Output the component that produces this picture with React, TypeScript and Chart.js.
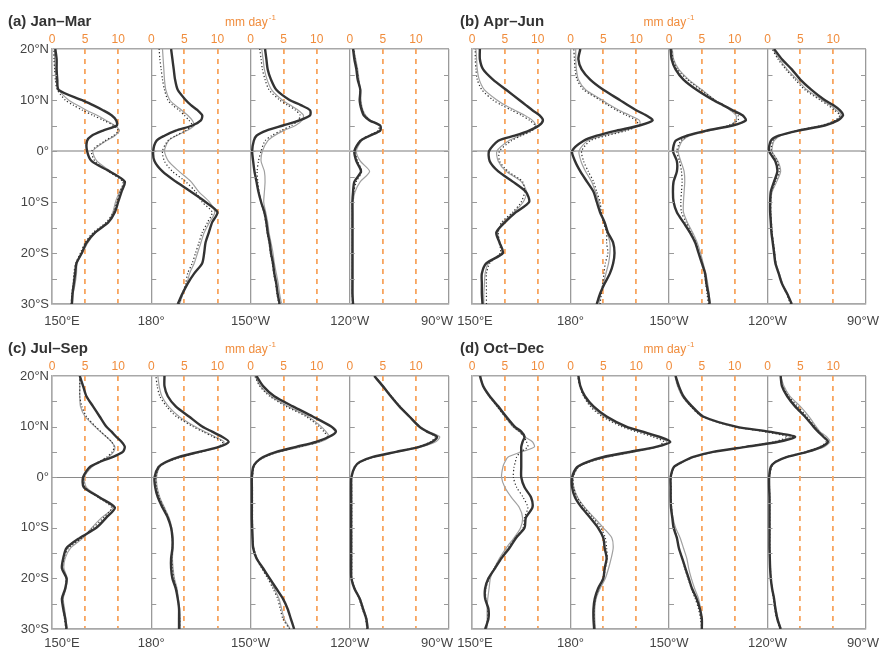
import React, { useEffect, useRef } from 'react';
import { Chart, registerables } from 'chart.js';

Chart.register(...registerables);

const FONT = '"Liberation Sans", Arial, Helvetica, sans-serif';
Chart.defaults.font.family = FONT;

// ---------------- axes / labels ----------------
const LATS = [-30, -28, -26, -24, -22, -20, -18, -16, -14, -12, -10, -8, -6, -4, -2, 0, 2, 3, 4, 5, 6, 7, 8, 9, 10, 12, 14, 16, 18, 20];
const LON_TICKS = [150, 180, 210, 240, 270];
const LON_LABELS = ['150°E', '180°', '150°W', '120°W', '90°W'];
const LAT_TICKS = [-30, -20, -10, 0, 10, 20];
const LAT_LABELS = ['30°S', '20°S', '10°S', '0°', '10°N', '20°N'];
const LAT_MINOR = [-25, -20, -15, -10, -5, 0, 5, 10, 15];
const RAIN_TICKS = [0, 5, 10];
const SEASONS = ['(a) Jan–Mar', '(b) Apr–Jun', '(c) Jul–Sep', '(d) Oct–Dec'];
const UNIT = 'mm day';
const UNIT_SUP = '-1';

// ---------------- data (mm/day, ordered as LATS) ----------------
// Jan–Mar
const jfm150E_solid = [3.0, 3.1, 3.3, 3.5, 3.7, 4.5, 5.2, 6.5, 8.5, 9.5, 10.0, 10.5, 11.0, 8.7, 6.0, 5.3, 5.3, 6.0, 7.7, 9.8, 9.7, 9.0, 7.7, 6.2, 4.5, 1.0, 0.8, 0.7, 0.7, 0.5];
const jfm150E_dotted = [2.9, 3.0, 3.2, 3.3, 3.6, 4.3, 5.0, 6.2, 8.2, 9.3, 9.8, 10.3, 10.7, 8.5, 6.5, 6.0, 8.0, 9.3, 10.0, 9.3, 7.8, 6.2, 4.6, 3.2, 2.0, 0.8, 0.5, 0.4, 0.3, 0.3];
const jfm150E_gray = [3.1, 3.2, 3.5, 3.7, 3.8, 4.6, 5.4, 6.6, 8.4, 9.2, 9.6, 10.2, 10.9, 8.9, 6.8, 6.2, 8.2, 9.5, 10.2, 9.5, 8.2, 6.8, 5.2, 3.8, 2.5, 1.0, 0.6, 0.5, 0.4, 0.4];
const jfm180_solid = [4.0, 4.7, 5.5, 6.5, 7.7, 8.0, 8.2, 8.7, 9.2, 10.0, 8.2, 6.0, 3.7, 1.7, 0.5, 0.3, 0.8, 2.0, 3.7, 6.2, 7.5, 7.7, 7.0, 6.0, 5.2, 4.0, 3.6, 3.4, 3.2, 3.0];
const jfm180_dotted = [4.2, 4.7, 5.2, 5.5, 6.2, 6.7, 7.2, 7.7, 8.5, 9.2, 7.7, 6.7, 5.2, 3.2, 2.0, 1.7, 2.5, 3.7, 5.2, 6.2, 5.7, 5.0, 4.2, 3.2, 2.5, 2.0, 1.7, 1.5, 1.3, 1.2];
const jfm180_gray = [4.3, 4.8, 5.4, 5.8, 6.5, 7.0, 7.5, 8.0, 8.8, 9.6, 8.8, 7.2, 6.0, 4.2, 2.6, 2.0, 2.6, 3.8, 5.4, 6.5, 6.2, 5.5, 4.6, 3.6, 2.8, 2.2, 2.0, 1.9, 1.8, 1.7];
const jfm150W_solid = [4.4, 4.1, 3.9, 3.6, 3.4, 3.1, 2.9, 2.6, 2.4, 2.1, 1.6, 1.2, 0.9, 0.6, 0.4, 0.25, 0.5, 0.9, 2.4, 4.9, 7.4, 9.0, 9.0, 7.6, 5.9, 3.9, 3.1, 2.6, 2.4, 2.2];
const jfm150W_dotted = [4.3, 4.0, 3.8, 3.5, 3.3, 3.0, 2.8, 2.5, 2.3, 2.0, 1.6, 1.3, 1.1, 1.0, 1.2, 1.6, 2.2, 3.2, 4.6, 6.2, 7.2, 7.5, 6.8, 5.6, 4.4, 2.8, 2.2, 1.8, 1.6, 1.4];
const jfm150W_gray = [4.7, 4.4, 4.2, 3.9, 3.6, 3.4, 3.1, 2.8, 2.6, 2.3, 2.0, 2.1, 2.2, 2.1, 1.6, 1.8, 2.6, 3.6, 5.0, 6.8, 7.8, 8.0, 7.2, 6.0, 4.8, 3.2, 2.5, 2.1, 1.9, 1.7];
const jfm120W_solid = [0.5, 0.4, 0.4, 0.4, 0.4, 0.4, 0.4, 0.4, 0.4, 0.4, 0.4, 0.5, 0.7, 1.7, 1.0, 0.7, 1.6, 3.0, 4.6, 4.6, 3.0, 2.1, 1.8, 1.6, 1.5, 1.6, 1.2, 1.0, 0.7, 0.5];
const jfm120W_dotted = [0.4, 0.4, 0.4, 0.4, 0.4, 0.4, 0.4, 0.4, 0.4, 0.4, 0.4, 0.6, 1.0, 1.8, 1.2, 0.8, 1.5, 2.8, 4.3, 4.4, 3.0, 2.3, 1.9, 1.7, 1.6, 1.5, 1.3, 1.1, 0.8, 0.6];
const jfm120W_gray = [0.5, 0.5, 0.5, 0.5, 0.5, 0.5, 0.5, 0.5, 0.5, 0.5, 0.5, 0.8, 1.6, 3.0, 1.6, 1.0, 1.8, 3.2, 4.7, 4.6, 3.2, 2.4, 2.0, 1.8, 1.7, 1.6, 1.4, 1.2, 0.9, 0.6];

// Apr–Jun
const amj150E_solid = [1.6, 1.5, 1.5, 1.5, 2.2, 4.7, 4.2, 3.7, 5.0, 6.7, 8.7, 8.2, 6.2, 4.0, 2.7, 2.6, 4.0, 6.5, 8.7, 10.2, 10.8, 10.3, 9.2, 8.2, 7.2, 5.2, 3.2, 1.7, 1.2, 1.2];
const amj150E_dotted = [2.2, 2.2, 2.2, 2.2, 2.7, 4.3, 4.2, 4.0, 4.5, 6.2, 7.5, 8.0, 7.7, 5.5, 4.2, 4.2, 6.0, 7.5, 9.2, 9.6, 8.8, 7.5, 6.0, 4.5, 3.2, 1.5, 0.8, 0.6, 0.5, 0.5];
const amj150E_gray = [1.8, 1.8, 1.9, 2.0, 2.5, 4.5, 4.3, 3.9, 4.7, 6.4, 7.8, 8.3, 7.5, 5.2, 4.0, 3.8, 5.6, 7.3, 9.0, 9.7, 9.2, 8.0, 6.5, 5.0, 3.8, 1.9, 1.1, 0.8, 0.7, 0.6];
const amj180_solid = [4.0, 4.5, 5.2, 6.0, 6.5, 6.7, 6.5, 5.7, 5.2, 4.5, 4.0, 3.5, 2.5, 1.5, 0.7, 0.25, 2.0, 4.0, 7.0, 10.5, 12.5, 11.5, 10.0, 8.7, 7.5, 5.0, 3.0, 1.7, 1.2, 1.5];
const amj180_dotted = [4.5, 4.7, 4.9, 5.1, 5.3, 5.7, 5.5, 5.5, 5.0, 4.7, 4.5, 4.0, 3.5, 2.7, 2.0, 1.7, 3.0, 5.5, 8.5, 10.3, 10.0, 8.5, 7.0, 5.7, 4.5, 2.0, 1.0, 0.7, 0.6, 0.5];
const amj180_gray = [4.3, 4.6, 5.0, 5.4, 5.8, 6.0, 6.0, 5.6, 5.1, 4.6, 4.3, 3.8, 3.2, 2.3, 1.6, 1.3, 2.6, 5.0, 8.2, 10.5, 10.5, 9.0, 7.4, 6.0, 4.8, 2.3, 1.2, 0.9, 0.8, 0.8];
const amj150W_solid = [6.2, 6.0, 5.7, 5.5, 5.0, 4.5, 4.0, 3.2, 2.2, 1.2, 0.7, 0.6, 0.7, 1.2, 1.2, 0.6, 1.0, 2.7, 5.7, 9.7, 11.7, 11.2, 9.7, 8.2, 6.7, 4.2, 2.2, 1.0, 0.4, 0.25];
const amj150W_dotted = [6.0, 5.8, 5.6, 5.4, 5.0, 4.6, 4.1, 3.4, 2.6, 1.9, 1.8, 1.9, 2.0, 1.9, 1.6, 1.2, 1.8, 3.0, 6.0, 9.0, 10.5, 10.5, 9.5, 8.3, 7.0, 4.8, 2.8, 1.3, 0.6, 0.4];
const amj150W_gray = [6.3, 6.1, 5.9, 5.6, 5.2, 4.8, 4.3, 3.6, 2.8, 2.2, 2.2, 2.3, 2.4, 2.3, 1.8, 1.4, 2.0, 3.2, 6.2, 9.3, 10.2, 10.2, 9.3, 8.2, 7.0, 5.0, 3.0, 1.5, 0.7, 0.5];
const amj120W_solid = [3.7, 3.0, 2.2, 1.7, 1.2, 1.0, 0.8, 0.6, 0.5, 0.4, 0.4, 0.5, 1.0, 1.5, 1.2, 0.25, 0.5, 1.7, 4.7, 8.7, 10.7, 11.5, 11.0, 10.0, 8.7, 6.7, 5.0, 3.7, 2.2, 1.0];
const amj120W_dotted = [3.5, 2.9, 2.2, 1.7, 1.3, 1.1, 0.9, 0.7, 0.6, 0.5, 0.5, 0.6, 1.2, 1.8, 1.5, 0.6, 0.8, 1.8, 4.4, 8.2, 10.3, 11.0, 10.2, 9.2, 8.0, 5.7, 4.2, 2.8, 1.6, 0.7];
const amj120W_gray = [3.6, 3.0, 2.3, 1.8, 1.3, 1.1, 0.9, 0.7, 0.6, 0.5, 0.5, 0.7, 1.4, 2.0, 1.6, 0.7, 1.0, 2.0, 4.6, 8.4, 10.5, 11.2, 10.5, 9.5, 8.3, 6.0, 4.5, 3.0, 1.8, 0.8];

// Jul–Sep
const jas150E_solid = [2.2, 2.0, 1.7, 1.5, 2.0, 2.2, 1.5, 1.7, 2.2, 4.2, 6.7, 8.2, 9.5, 7.2, 4.8, 4.7, 5.7, 7.2, 9.2, 10.7, 11.0, 10.5, 9.7, 9.0, 8.2, 7.2, 6.2, 5.2, 4.7, 4.2];
const jas150E_dotted = [2.1, 1.9, 1.7, 1.6, 2.0, 2.1, 1.6, 1.8, 2.5, 4.5, 6.2, 7.8, 9.0, 7.0, 5.0, 4.8, 5.8, 7.0, 8.3, 9.1, 9.4, 9.0, 8.2, 7.4, 6.6, 5.2, 4.5, 4.2, 4.2, 4.2];
const jas150E_gray = [2.3, 2.1, 1.9, 1.7, 2.1, 2.3, 1.8, 2.0, 2.8, 4.7, 6.0, 7.5, 9.2, 7.3, 5.2, 4.9, 6.0, 7.2, 8.5, 9.3, 9.5, 9.0, 8.2, 7.3, 6.5, 5.0, 4.3, 4.2, 4.2, 4.2];
const jas180_solid = [4.2, 4.2, 4.2, 4.0, 3.7, 3.2, 3.0, 3.0, 3.2, 3.2, 3.0, 2.5, 1.7, 1.0, 0.6, 0.5, 1.1, 2.2, 4.2, 7.2, 10.2, 11.7, 10.7, 9.2, 7.7, 5.7, 3.7, 2.5, 2.0, 2.0];
const jas180_dotted = [4.3, 4.3, 4.2, 4.0, 3.8, 3.4, 3.2, 3.1, 3.2, 3.2, 3.0, 2.6, 1.9, 1.2, 0.8, 0.7, 1.2, 2.4, 4.5, 7.5, 10.2, 10.8, 9.3, 7.8, 6.3, 3.8, 2.3, 1.3, 0.9, 0.7];
const jas180_gray = [4.4, 4.4, 4.3, 4.1, 3.9, 3.5, 3.3, 3.2, 3.3, 3.3, 3.1, 2.7, 2.0, 1.3, 0.9, 0.8, 1.3, 2.5, 4.6, 7.6, 10.4, 11.0, 9.6, 8.1, 6.6, 4.2, 2.6, 1.6, 1.2, 1.0];
const jas150W_solid = [6.6, 6.1, 5.6, 4.9, 3.9, 2.9, 1.9, 0.9, 0.4, 0.3, 0.25, 0.2, 0.2, 0.2, 0.2, 0.2, 0.4, 0.9, 1.9, 3.9, 6.9, 9.9, 11.9, 12.9, 12.2, 9.4, 6.4, 3.6, 1.9, 0.9];
const jas150W_dotted = [5.9, 4.9, 4.5, 4.1, 3.4, 2.6, 1.7, 0.9, 0.5, 0.3, 0.3, 0.3, 0.3, 0.3, 0.3, 0.3, 0.5, 1.0, 2.2, 4.2, 7.4, 10.4, 11.6, 11.1, 10.4, 8.4, 5.4, 2.9, 1.4, 0.65];
const jas150W_gray = [6.0, 5.1, 4.7, 4.3, 3.6, 2.8, 1.8, 1.0, 0.5, 0.4, 0.3, 0.3, 0.3, 0.3, 0.3, 0.3, 0.5, 1.0, 2.2, 4.3, 7.6, 10.6, 11.9, 11.4, 10.7, 8.7, 5.7, 3.1, 1.5, 0.7];
const jas120W_solid = [2.7, 2.5, 2.0, 1.5, 0.7, 0.25, 0.2, 0.2, 0.2, 0.2, 0.2, 0.2, 0.2, 0.2, 0.2, 0.25, 0.75, 1.5, 3.5, 7.0, 10.5, 12.5, 13.2, 11.7, 10.5, 9.0, 7.5, 6.2, 5.0, 3.7];
const jas120W_dotted = [2.6, 2.4, 1.9, 1.4, 0.8, 0.3, 0.3, 0.3, 0.3, 0.3, 0.3, 0.3, 0.3, 0.3, 0.3, 0.3, 0.8, 1.6, 3.6, 7.0, 10.3, 12.2, 12.9, 11.6, 10.5, 9.0, 7.6, 6.3, 5.0, 3.8];
const jas120W_gray = [2.8, 2.6, 2.1, 1.6, 0.8, 0.3, 0.3, 0.3, 0.3, 0.3, 0.3, 0.3, 0.3, 0.3, 0.3, 0.3, 0.8, 1.6, 3.7, 7.3, 10.8, 13.0, 13.6, 12.0, 10.7, 9.1, 7.6, 6.3, 5.1, 3.8];

// Oct–Dec
const ond150E_solid = [2.0, 2.5, 2.5, 2.0, 2.0, 2.5, 3.5, 4.5, 5.7, 6.7, 8.0, 8.2, 9.2, 9.0, 8.0, 7.5, 7.5, 7.5, 7.5, 7.5, 7.5, 7.7, 8.0, 7.5, 6.5, 5.2, 4.0, 2.7, 1.7, 1.2];
const ond150E_dotted = [2.1, 2.4, 2.4, 2.1, 2.1, 2.6, 3.4, 4.4, 5.5, 6.6, 7.8, 8.0, 8.5, 7.8, 6.8, 6.3, 6.4, 6.6, 6.8, 7.4, 8.5, 8.3, 7.9, 7.2, 6.3, 5.0, 3.8, 2.6, 1.7, 1.3];
const ond150E_gray = [2.3, 2.3, 2.3, 2.4, 2.6, 2.8, 3.4, 4.2, 5.2, 6.4, 7.4, 7.7, 7.2, 6.0, 5.0, 4.5, 4.7, 5.0, 5.5, 7.5, 9.5, 9.2, 8.0, 7.2, 6.2, 5.0, 3.8, 2.6, 1.7, 1.3];
const ond180_solid = [3.6, 3.5, 3.5, 3.7, 4.2, 5.0, 5.2, 5.5, 5.2, 5.0, 4.2, 3.0, 1.7, 0.7, 0.25, 0.25, 1.0, 2.5, 5.0, 9.0, 13.0, 15.2, 13.5, 11.0, 8.5, 5.5, 3.5, 2.2, 1.5, 1.2];
const ond180_dotted = [3.7, 3.6, 3.6, 3.8, 4.3, 5.0, 5.3, 5.6, 5.5, 5.3, 4.6, 3.4, 2.1, 1.0, 0.5, 0.4, 1.2, 2.8, 5.5, 9.5, 13.0, 14.2, 12.5, 10.0, 7.8, 4.8, 3.0, 2.0, 1.4, 1.1];
const ond180_gray = [3.8, 3.7, 3.7, 3.9, 4.5, 5.3, 5.8, 6.2, 6.5, 6.3, 5.0, 3.6, 2.2, 1.1, 0.5, 0.4, 1.2, 2.9, 5.8, 9.8, 13.3, 14.7, 13.0, 10.5, 8.2, 5.1, 3.2, 2.1, 1.5, 1.2];
const ond150W_solid = [5.0, 5.0, 4.7, 4.2, 3.5, 3.0, 2.5, 2.0, 1.5, 1.2, 0.7, 0.5, 0.3, 0.25, 0.25, 0.25, 0.75, 2.0, 3.7, 6.7, 11.7, 16.7, 19.2, 15.2, 10.2, 5.2, 3.5, 2.2, 1.5, 1.0];
const ond150W_dotted = [5.0, 4.8, 4.5, 4.0, 3.4, 2.9, 2.4, 2.0, 1.5, 1.2, 0.8, 0.5, 0.4, 0.3, 0.3, 0.3, 0.8, 2.0, 3.8, 6.8, 11.5, 16.0, 18.0, 14.5, 9.8, 5.0, 3.3, 2.1, 1.4, 1.0];
const ond150W_gray = [5.1, 5.0, 4.8, 4.5, 3.9, 3.4, 3.0, 2.7, 2.2, 1.7, 1.0, 0.6, 0.4, 0.3, 0.3, 0.3, 0.8, 2.1, 3.9, 7.0, 11.8, 16.3, 18.5, 14.8, 10.0, 5.0, 3.3, 2.0, 1.3, 0.9];
const ond120W_solid = [2.0, 1.5, 1.2, 1.0, 0.7, 0.5, 0.4, 0.35, 0.3, 0.3, 0.3, 0.3, 0.3, 0.3, 0.25, 0.25, 0.5, 1.2, 3.0, 6.0, 8.2, 9.2, 8.5, 7.7, 7.0, 5.7, 4.2, 3.0, 2.2, 2.0];
const ond120W_dotted = [1.9, 1.4, 1.1, 0.9, 0.7, 0.5, 0.45, 0.4, 0.35, 0.35, 0.35, 0.35, 0.35, 0.35, 0.3, 0.3, 0.6, 1.1, 2.9, 5.7, 8.0, 8.9, 8.5, 7.8, 7.2, 6.0, 4.6, 3.2, 2.3, 1.9];
const ond120W_gray = [2.1, 1.6, 1.3, 1.0, 0.7, 0.5, 0.45, 0.4, 0.35, 0.35, 0.35, 0.35, 0.35, 0.35, 0.3, 0.3, 0.6, 1.1, 3.1, 6.2, 8.6, 9.5, 9.0, 8.0, 7.4, 6.3, 5.0, 3.4, 2.5, 2.0];

const SEASON_DATA = [
  [[jfm150E_solid, jfm150E_dotted, jfm150E_gray], [jfm180_solid, jfm180_dotted, jfm180_gray], [jfm150W_solid, jfm150W_dotted, jfm150W_gray], [jfm120W_solid, jfm120W_dotted, jfm120W_gray]],
  [[amj150E_solid, amj150E_dotted, amj150E_gray], [amj180_solid, amj180_dotted, amj180_gray], [amj150W_solid, amj150W_dotted, amj150W_gray], [amj120W_solid, amj120W_dotted, amj120W_gray]],
  [[jas150E_solid, jas150E_dotted, jas150E_gray], [jas180_solid, jas180_dotted, jas180_gray], [jas150W_solid, jas150W_dotted, jas150W_gray], [jas120W_solid, jas120W_dotted, jas120W_gray]],
  [[ond150E_solid, ond150E_dotted, ond150E_gray], [ond180_solid, ond180_dotted, ond180_gray], [ond150W_solid, ond150W_dotted, ond150W_gray], [ond120W_solid, ond120W_dotted, ond120W_gray]],
];

// ---------------- styles / layout ----------------
const ORANGE_TEXT = 'rgb(240,140,60)';
const ORANGE_LINE = 'rgb(248,165,95)';
const FRAME = '#a8a8a8';
const SERIES_STYLES = [
  { name: 'solid', color: '#333333', width: 2.4, dash: [] as number[], order: 0 },
  { name: 'dotted', color: '#2a2a2a', width: 1.2, dash: [1.2, 2.2], order: 1 },
  { name: 'gray', color: '#a0a0a0', width: 1.2, dash: [] as number[], order: 2 },
];
const TOP_H = 25;
const BOTTOM_H = 22;

const LAYOUT = [
  { box: { left: 0, top: 0, width: 462, height: 330 }, plot: { l: 52, t: 49, r: 449, b: 304 }, showLat: true, zeroColor: '#bdbdbd', zeroWidth: 2, labelDy: 17, firstOff: 10, lastOff: -12, titleX: 8 },
  { box: { left: 440, top: 0, width: 439, height: 330 }, plot: { l: 472, t: 49, r: 866, b: 304 }, showLat: false, zeroColor: '#bdbdbd', zeroWidth: 2, labelDy: 17, firstOff: 3, lastOff: -3, titleX: 460 },
  { box: { left: 0, top: 326, width: 462, height: 326 }, plot: { l: 52, t: 376, r: 449, b: 629 }, showLat: true, zeroColor: '#8a8a8a', zeroWidth: 1, labelDy: 14, firstOff: 10, lastOff: -12, titleX: 8 },
  { box: { left: 440, top: 326, width: 439, height: 326 }, plot: { l: 472, t: 376, r: 866, b: 629 }, showLat: false, zeroColor: '#8a8a8a', zeroWidth: 1, labelDy: 14, firstOff: 3, lastOff: -3, titleX: 460 },
];

const RAIN_TOP_TICKS = [0, 1, 2, 3].flatMap((k) => RAIN_TICKS.map((t) => 15 * k + t));

function buildConfig(idx: number): any {
  const L = LAYOUT[idx];
  const relL = L.plot.l - L.box.left;
  const relR = L.plot.r - L.box.left;
  const relT = L.plot.t - L.box.top;
  const relB = L.plot.b - L.box.top;
  const padding = {
    left: 0,
    right: L.box.width - relR,
    top: relT - TOP_H,
    bottom: L.box.height - relB - BOTTOM_H,
  };

  const datasets: any[] = [];
  SEASON_DATA[idx].forEach((group, k) => {
    group.forEach((arr, s) => {
      const st = SERIES_STYLES[s];
      datasets.push({
        label: `${LON_LABELS[k]} ${st.name}`,
        data: LATS.map((lat, i) => ({ x: arr[i], y: lat })),
        xAxisID: 'xs' + k,
        yAxisID: 'y',
        showLine: true,
        pointRadius: 0,
        borderColor: st.color,
        borderWidth: st.width,
        borderDash: st.dash,
        order: st.order,
        tension: 0.25,
        fill: false,
      });
    });
  });

  const scales: any = {
    x: {
      type: 'linear', axis: 'x', position: 'bottom', min: 150, max: 270,
      afterBuildTicks: (s: any) => { s.ticks = LON_TICKS.map((v) => ({ value: v })); },
      afterFit: (s: any) => { s.height = BOTTOM_H; },
      ticks: { display: false },
      grid: { color: '#9a9a9a', lineWidth: 1.3, drawTicks: false },
      border: { color: FRAME, width: 1.5 },
    },
    y: {
      type: 'linear', position: 'left', min: -30, max: 20,
      afterBuildTicks: (s: any) => { s.ticks = LAT_TICKS.map((v) => ({ value: v })); },
      afterFit: (s: any) => { s.width = relL; },
      ticks: {
        display: L.showLat,
        callback: (v: any) => LAT_LABELS[LAT_TICKS.indexOf(Number(v))],
        color: '#444', font: { size: 13 }, padding: 3,
      },
      grid: {
        drawTicks: false,
        color: (c: any) => {
          const v = c.tick ? c.tick.value : null;
          if (v === 0) return L.zeroColor;
          if (v === -30 || v === 20) return FRAME;
          return 'rgba(0,0,0,0)';
        },
        lineWidth: (c: any) => (c.tick && c.tick.value === 0 ? L.zeroWidth : 1.5),
      },
      border: { color: FRAME, width: 1.5 },
    },
    xtop: {
      type: 'linear', axis: 'x', position: 'top', min: 0, max: 60,
      afterBuildTicks: (s: any) => { s.ticks = RAIN_TOP_TICKS.map((v) => ({ value: v })); },
      afterFit: (s: any) => { s.height = TOP_H; },
      ticks: {
        autoSkip: false, maxRotation: 0, padding: 2,
        callback: (v: any) => String(RAIN_TICKS[RAIN_TOP_TICKS.indexOf(Number(v)) % RAIN_TICKS.length]),
        color: ORANGE_TEXT, font: { size: 12 },
      },
      grid: {
        drawTicks: false,
        color: (c: any) => (c.tick && c.tick.value % 15 === 0 ? 'rgba(0,0,0,0)' : ORANGE_LINE),
        lineWidth: 1.8,
      },
      border: { display: false, dash: [5, 5] },
    },
  };
  for (let k = 0; k < 4; k++) {
    scales['xs' + k] = { type: 'linear', axis: 'x', position: 'bottom', display: false, min: -15 * k, max: 60 - 15 * k };
  }

  const annot = {
    id: 'annot' + idx,
    afterDraw(chart: any) {
      const { ctx, chartArea, scales: sc } = chart;
      ctx.save();
      // small latitude tick marks on each sub-panel divider
      ctx.strokeStyle = '#9a9a9a';
      ctx.lineWidth = 1;
      LAT_MINOR.forEach((lat) => {
        const y = Math.round(sc.y.getPixelForValue(lat)) + 0.5;
        LON_TICKS.forEach((lon, i) => {
          const x = sc.x.getPixelForValue(lon);
          const dir = i === LON_TICKS.length - 1 ? -1 : 1;
          ctx.beginPath();
          ctx.moveTo(x, y);
          ctx.lineTo(x + dir * 5, y);
          ctx.stroke();
        });
      });
      // longitude labels
      ctx.font = `13px ${FONT}`;
      ctx.fillStyle = '#444';
      ctx.textAlign = 'center';
      ctx.textBaseline = 'middle';
      LON_TICKS.forEach((lon, i) => {
        const off = i === 0 ? L.firstOff : i === LON_TICKS.length - 1 ? L.lastOff : 0;
        ctx.fillText(LON_LABELS[i], sc.x.getPixelForValue(lon) + off, chartArea.bottom + L.labelDy);
      });
      // panel title
      const ty = chartArea.top - 27;
      ctx.font = `bold 15px ${FONT}`;
      ctx.fillStyle = '#333';
      ctx.textAlign = 'left';
      ctx.fillText(SEASONS[idx], L.titleX - L.box.left, ty);
      // unit label
      ctx.font = `12px ${FONT}`;
      const w1 = ctx.measureText(UNIT).width;
      ctx.font = `8px ${FONT}`;
      const w2 = ctx.measureText(UNIT_SUP).width;
      const cx = (chartArea.left + chartArea.right) / 2;
      const x0 = cx - (w1 + w2 + 1) / 2;
      ctx.fillStyle = ORANGE_TEXT;
      ctx.font = `12px ${FONT}`;
      ctx.fillText(UNIT, x0, ty + 1);
      ctx.font = `8px ${FONT}`;
      ctx.fillText(UNIT_SUP, x0 + w1 + 1, ty - 4);
      ctx.restore();
    },
  };

  return {
    type: 'scatter',
    data: { datasets },
    options: {
      animation: false,
      responsive: false,
      maintainAspectRatio: false,
      layout: { padding },
      plugins: { legend: { display: false }, tooltip: { enabled: false }, title: { display: false } },
      scales,
    },
    plugins: [annot],
  };
}

function Panel({ idx }: { idx: number }) {
  const ref = useRef<HTMLCanvasElement>(null);
  const L = LAYOUT[idx];
  useEffect(() => {
    if (!ref.current) return;
    const chart = new Chart(ref.current, buildConfig(idx));
    return () => chart.destroy();
  }, [idx]);
  return (
    <canvas
      ref={ref}
      width={L.box.width}
      height={L.box.height}
      style={{ position: 'absolute', left: L.box.left, top: L.box.top, width: L.box.width, height: L.box.height }}
    />
  );
}

export default function App() {
  return (
    <div style={{ position: 'fixed', left: 0, top: 0, width: 879, height: 652, background: '#ffffff', overflow: 'hidden' }}>
      {[0, 1, 2, 3].map((i) => (
        <Panel key={i} idx={i} />
      ))}
    </div>
  );
}
